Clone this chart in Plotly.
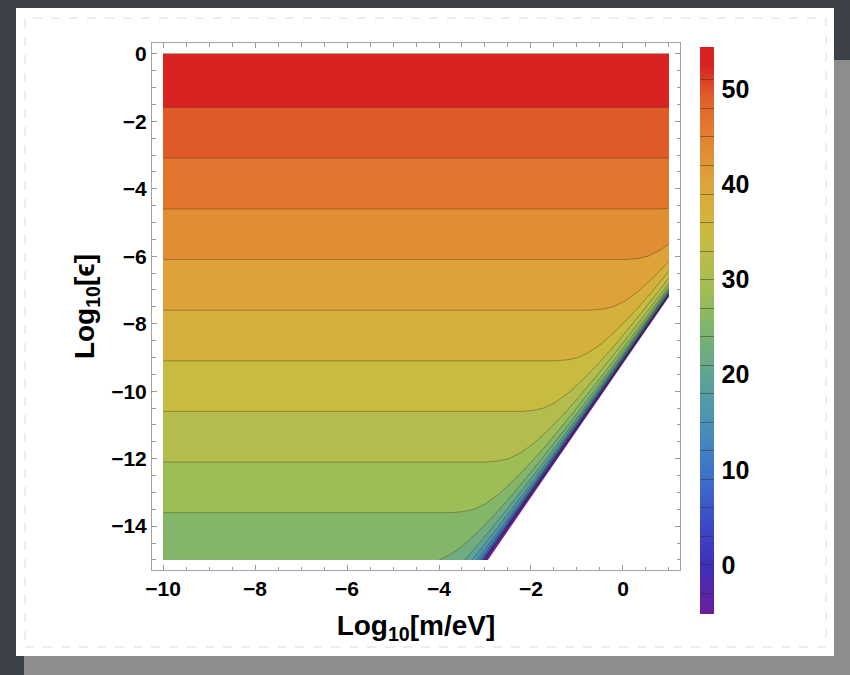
import numpy as np
import plotly.graph_objects as go

# ---------------- data ----------------
# contour levels (Log10 eps) where each far-field band boundary crosses the left edge
band_levels = [27, 30, 33, 36, 39, 42, 45, 48, 51]
band_eps = [-13.60, -12.10, -10.60, -9.10, -7.60, -6.10, -4.60, -3.09, -1.59]
# value at the bottom (Log10 eps = -15) and top (Log10 eps = 0) of the data region
edge_eps = [-15.0, 0.0]
edge_val = [24.2, 54.2]
# straight cut-off edge of the filled region (lower right is empty)
cut_m = [-2.935, 1.0]
cut_eps = [-15.0, -7.2]
# drop of the value vs. vertical distance (decades of eps) above the cut-off edge
drop_dist = [0.00, 0.05, 0.10, 0.16, 0.23, 0.31, 0.40, 0.50, 0.62,
             0.75, 0.90, 1.05, 1.25, 1.50, 1.80, 2.10, 2.50, 3.00]
drop_val = [70.0, 40.0, 30.0, 23.0, 17.5, 13.5, 10.8, 8.8, 7.0,
            5.4, 3.9, 2.9, 1.9, 1.05, 0.5, 0.2, 0.06, 0.0]
# data extent
m_extent = [-10.0, 1.0]
eps_extent = [-15.0, 0.0]
# contour levels
level_start, level_end, level_step = -3, 51, 3
cs_vals = [-5.2, 0.0, 5.0, 10.0, 15.0, 20.0, 25.0, 28.5, 31.5, 34.5,
           37.5, 40.5, 43.5, 46.5, 49.5, 52.5, 54.5]
cs_cols = ['#6b1f9a', '#3f2fb8', '#3c4fc6', '#3e75c8', '#4a92b5', '#5ea493',
           '#80b56c', '#9dbd57', '#b4bc4e', '#c7bb40', '#d5b03c', '#dea23a',
           '#e08d33', '#e2752e', '#e05a29', '#d92323', '#d61f22']
cbar_min, cbar_max = -5.16, 54.46
cbar_ticks = [0, 10, 20, 30, 40, 50]

# ---------------- build the z table ----------------
xs = np.linspace(m_extent[0], m_extent[1], 441)
ys = np.linspace(eps_extent[0], eps_extent[1], 301)
X, Y = np.meshgrid(xs, ys)
prof_y = [edge_eps[0]] + band_eps + [edge_eps[1]]
prof_v = [edge_val[0]] + band_levels + [edge_val[1]]
far = np.interp(Y, prof_y, prof_v)
slope = (cut_eps[1] - cut_eps[0]) / (cut_m[1] - cut_m[0])
ycut = cut_eps[0] + (X - cut_m[0]) * slope
U = np.clip(Y - ycut, 0, None)
Z = np.round(far - np.interp(U, drop_dist, drop_val), 3)


def scale_for(lo, hi):
    out = []
    for v, c in zip(cs_vals, cs_cols):
        f = (v - lo) / (hi - lo)
        out.append([min(max(f, 0.0), 1.0), c])
    out[0][0] = 0.0
    out[-1][0] = 1.0
    return out


# plotly maps the fill colour scale onto [start - step/2, end + step/2]
contour_scale = scale_for(level_start - level_step / 2, level_end + level_step / 2)
bar_scale = scale_for(cbar_min, cbar_max)
clear_scale = [[0, 'rgba(0,0,0,0)'], [1, 'rgba(0,0,0,0)']]

# ---------------- geometry helpers (layout decoration) ----------------
L, R, T, B = 152, 680, 43, 570
W, H = R - L, B - T


def fx(px):
    return (px - L) / W


def fy(py):
    return (B - py) / H


FONT = "Liberation Sans, Arial, sans-serif"
line_col = 'rgba(55,40,20,0.45)'

fig = go.Figure()
fig.add_trace(go.Contour(
    x=xs, y=ys, z=Z,
    colorscale=contour_scale,
    contours=dict(start=level_start, end=level_end, size=level_step,
                  coloring='fill', showlines=True),
    line=dict(color=line_col, width=0.8),
    showscale=False, hoverinfo='skip'))

# white mask over the empty lower-right region
ext = 0.06
mask_x = [cut_m[0] - ext, cut_m[1] + ext, cut_m[1] + ext, cut_m[0] - ext]
mask_y = [cut_eps[0] - ext * slope, cut_eps[1] + ext * slope,
          eps_extent[0] - 0.1, eps_extent[0] - 0.1]
fig.add_trace(go.Scatter(x=mask_x, y=mask_y, fill='toself', fillcolor='white',
                         mode='lines', line=dict(width=0, color='white'),
                         hoverinfo='skip', showlegend=False))

# colour bar with level lines
bar_x = fx(700)
bar_top = fy(47)
bar_len = 567
levels = list(range(level_start, level_end + 1, level_step))
fig.add_trace(go.Scatter(
    x=[-30], y=[-30], mode='markers', showlegend=False, hoverinfo='skip',
    marker=dict(color=[0], cmin=cbar_min, cmax=cbar_max, colorscale=bar_scale,
                opacity=0, showscale=True,
                colorbar=dict(x=bar_x, xanchor='left', xpad=0, y=bar_top, yanchor='top',
                              ypad=0, lenmode='pixels', len=bar_len, thickness=14,
                              outlinewidth=0, tickmode='array', tickvals=levels,
                              ticks='inside', ticklen=14, tickwidth=1, tickcolor=line_col,
                              showticklabels=False))))
# colour bar labels (transparent bar, labels only)
fig.add_trace(go.Scatter(
    x=[-30], y=[-30], mode='markers', showlegend=False, hoverinfo='skip',
    marker=dict(color=[0], cmin=cbar_min, cmax=cbar_max, colorscale=clear_scale,
                opacity=0, showscale=True,
                colorbar=dict(x=fx(714), xanchor='left', xpad=0, y=bar_top, yanchor='top',
                              ypad=0, lenmode='pixels', len=bar_len, thickness=2,
                              outlinewidth=0, tickmode='array', tickvals=cbar_ticks,
                              ticks='', showticklabels=True,
                              tickfont=dict(family=FONT, size=25, color='black',
                                            weight='bold')))))

axis_common = dict(
    showgrid=False, zeroline=False, showline=True, linecolor='#a3a3a3', linewidth=1,
    mirror='ticks', ticks='inside', ticklen=5, tickwidth=1, tickcolor='#9a9a9a',
    tickmode='linear', tick0=0, dtick=2,
    tickfont=dict(family=FONT, size=21, color='black', weight='bold'),
    minor=dict(ticks='inside', ticklen=3.5, tickwidth=1, tickcolor='#9a9a9a',
               tick0=0, dtick=0.5, showgrid=False),
)

fig.update_layout(
    width=850, height=675,
    margin=dict(l=L, r=850 - R, t=T, b=675 - B),
    paper_bgcolor='#3c4047', plot_bgcolor='white',
    showlegend=False,
    xaxis=dict(range=[-10.24, 1.24], **axis_common,
               title=dict(text='Log<sub>10</sub>[m/eV]', standoff=16,
                          font=dict(family=FONT, size=28, color='black', weight='bold'))),
    yaxis=dict(range=[-15.3, 0.32], **axis_common,
               title=dict(text='Log<sub>10</sub>[ϵ]', standoff=8,
                          font=dict(family=FONT, size=28, color='black', weight='bold'))),
    shapes=[
        dict(type='rect', xref='paper', yref='paper', layer='below',
             x0=fx(24), x1=fx(850), y0=fy(675), y1=fy(60),
             fillcolor='#8d8d8d', line=dict(width=0)),
        dict(type='rect', xref='paper', yref='paper', layer='below',
             x0=fx(16), x1=fx(834), y0=fy(656), y1=fy(8),
             fillcolor='white', line=dict(width=0)),
        dict(type='rect', xref='paper', yref='paper', layer='below',
             x0=fx(25), x1=fx(826), y0=fy(647), y1=fy(18),
             fillcolor='rgba(0,0,0,0)', line=dict(width=1, color='#dcdcdc', dash='dash')),
    ],
)

fig.write_html("out.html")
